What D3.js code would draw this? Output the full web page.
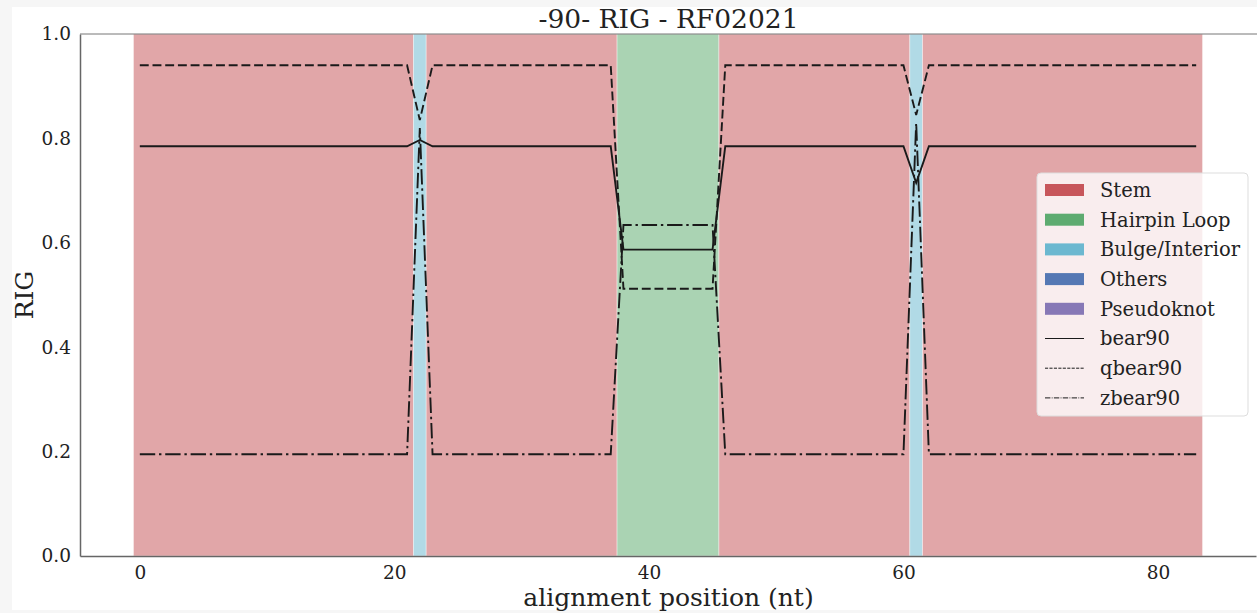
<!DOCTYPE html>
<html>
<head>
<meta charset="utf-8">
<script src="https://cdn.jsdelivr.net/npm/d3@7"></script>
<style>
  body { margin: 0; background: #f6f6f6; }
  svg { display: block; font-family: "DejaVu Serif", serif; }
</style>
</head>
<body>
<div id="chart"></div>
<script>
// RIG per alignment position (0..83)
const bear90 = [
  0.785,0.785,0.785,0.785,0.785,0.785,0.785,0.785,0.785,0.785,0.785,0.785,0.785,0.785,0.785,0.785,0.785,0.785,0.785,0.785,0.785,0.785,
  0.797,
  0.785,0.785,0.785,0.785,0.785,0.785,0.785,0.785,0.785,0.785,0.785,0.785,0.785,0.785,0.785,
  0.587,0.587,0.587,0.587,0.587,0.587,0.587,0.587,
  0.785,0.785,0.785,0.785,0.785,0.785,0.785,0.785,0.785,0.785,0.785,0.785,0.785,0.785,0.785,
  0.715,
  0.785,0.785,0.785,0.785,0.785,0.785,0.785,0.785,0.785,0.785,0.785,0.785,0.785,0.785,0.785,0.785,0.785,0.785,0.785,0.785,0.785,0.785
]
const qbear90 = [
  0.94,0.94,0.94,0.94,0.94,0.94,0.94,0.94,0.94,0.94,0.94,0.94,0.94,0.94,0.94,0.94,0.94,0.94,0.94,0.94,0.94,0.94,
  0.835,
  0.94,0.94,0.94,0.94,0.94,0.94,0.94,0.94,0.94,0.94,0.94,0.94,0.94,0.94,0.94,
  0.512,0.512,0.512,0.512,0.512,0.512,0.512,0.512,
  0.94,0.94,0.94,0.94,0.94,0.94,0.94,0.94,0.94,0.94,0.94,0.94,0.94,0.94,0.94,
  0.845,
  0.94,0.94,0.94,0.94,0.94,0.94,0.94,0.94,0.94,0.94,0.94,0.94,0.94,0.94,0.94,0.94,0.94,0.94,0.94,0.94,0.94,0.94
]
const zbear90 = [
  0.195,0.195,0.195,0.195,0.195,0.195,0.195,0.195,0.195,0.195,0.195,0.195,0.195,0.195,0.195,0.195,0.195,0.195,0.195,0.195,0.195,0.195,
  0.82,
  0.195,0.195,0.195,0.195,0.195,0.195,0.195,0.195,0.195,0.195,0.195,0.195,0.195,0.195,0.195,
  0.634,0.634,0.634,0.634,0.634,0.634,0.634,0.634,
  0.195,0.195,0.195,0.195,0.195,0.195,0.195,0.195,0.195,0.195,0.195,0.195,0.195,0.195,0.195,
  0.83,
  0.195,0.195,0.195,0.195,0.195,0.195,0.195,0.195,0.195,0.195,0.195,0.195,0.195,0.195,0.195,0.195,0.195,0.195,0.195,0.195,0.195,0.195
]

// secondary structure segments (first, last position)
const segments = [
  { type: "Stem", from: 0, to: 21 },
  { type: "Bulge/Interior", from: 22, to: 22 },
  { type: "Stem", from: 23, to: 37 },
  { type: "Hairpin Loop", from: 38, to: 45 },
  { type: "Stem", from: 46, to: 60 },
  { type: "Bulge/Interior", from: 61, to: 61 },
  { type: "Stem", from: 62, to: 83 }
]

const structureTypes = ["Stem", "Hairpin Loop", "Bulge/Interior", "Others", "Pseudoknot"]
const structureColors = ["#C44E52", "#55A868", "#64B5CD", "#4C72B0", "#8172B2"]
const xTicks = [0, 20, 40, 60, 80]
const yTicks = [0, 0.2, 0.4, 0.6, 0.8, 1.0]

const seriesList = [
  { name: "bear90", values: bear90, dash: null },
  { name: "qbear90", values: qbear90, dash: "8.9,3.8" },
  { name: "zbear90", values: zbear90, dash: "15.4,3.8,2.4,3.8" }
]

const width = 1257, height = 613
const margin = { top: 34, right: 1, left: 80, bottom: 57 }

const svg = d3.select("#chart").append("svg")
    .attr("width", width)
    .attr("height", height)

// figure background
svg.append("rect")
    .attr("x", 12).attr("y", 7)
    .attr("width", width - 12).attr("height", 603)
    .attr("fill", "#fff")

const x = d3.scaleLinear()
    .domain([-4.7, 87.7])
    .range([margin.left, width - margin.right])
const y = d3.scaleLinear()
    .domain([0, 1])
    .range([height - margin.bottom, margin.top])

const color = d3.scaleOrdinal().domain(structureTypes).range(structureColors)

// structure spans
svg.append("g").selectAll("rect")
    .data(segments)
    .join("rect")
    .attr("x", d => x(d.from - 0.5))
    .attr("width", d => x(d.to + 0.5) - x(d.from - 0.5))
    .attr("y", y(1))
    .attr("height", y(0) - y(1))
    .attr("fill", d => color(d.type))
    .attr("fill-opacity", 0.5)
    .attr("stroke", "#fff")
    .attr("stroke-opacity", 0.5)
    .attr("stroke-width", 0.8)

// lines
const line = d3.line()
    .x((d, i) => x(i))
    .y(d => y(d))

svg.append("g").selectAll("path")
    .data(seriesList)
    .join("path")
    .attr("d", d => line(d.values))
    .attr("fill", "none")
    .attr("stroke", "#1a1a1a")
    .attr("stroke-width", 1.9)
    .attr("stroke-dasharray", d => d.dash)

// axes
const xAxis = svg.append("g")
    .attr("transform", `translate(0,${y(0)})`)
    .call(d3.axisBottom(x).tickValues(xTicks).tickSize(0).tickPadding(10))
const yAxis = svg.append("g")
    .attr("transform", `translate(${margin.left},0)`)
    .call(d3.axisLeft(y).tickValues(yTicks).tickFormat(d3.format(".1f")).tickSize(0).tickPadding(9))

xAxis.select(".domain").attr("stroke", "#666").attr("stroke-width", 1.5)
yAxis.select(".domain").attr("stroke", "#666").attr("stroke-width", 1.5)
svg.selectAll(".tick text")
    .attr("font-family", "DejaVu Serif")
    .attr("font-size", 18.5)
    .attr("fill", "#222")

// top spine
svg.append("line")
    .attr("x1", margin.left).attr("x2", width)
    .attr("y1", y(1)).attr("y2", y(1))
    .attr("stroke", "#777").attr("stroke-width", 1)

// titles
svg.append("text")
    .attr("x", (margin.left + width) / 2)
    .attr("y", 28)
    .attr("text-anchor", "middle")
    .attr("font-size", 26.5)
    .attr("fill", "#222")
    .text("-90- RIG - RF02021")

svg.append("text")
    .attr("x", (margin.left + width) / 2)
    .attr("y", 606)
    .attr("text-anchor", "middle")
    .attr("font-size", 25)
    .attr("fill", "#222")
    .text("alignment position (nt)")

svg.append("text")
    .attr("transform", `translate(33,${(y(0) + y(1)) / 2}) rotate(-90)`)
    .attr("text-anchor", "middle")
    .attr("font-size", 25)
    .attr("fill", "#222")
    .text("RIG")

// legend
const legend = svg.append("g").attr("transform", "translate(1037,173)")
legend.append("rect")
    .attr("width", 211).attr("height", 243)
    .attr("rx", 4)
    .attr("fill", "#fff").attr("fill-opacity", 0.8)
    .attr("stroke", "#ddd")

const legendItems = structureTypes.map(t => ({ name: t, kind: "patch" }))
    .concat(seriesList.map(s => ({ name: s.name, kind: "line", dash: s.dash })))

const item = legend.selectAll("g.item")
    .data(legendItems)
    .join("g")
    .attr("class", "item")
    .attr("transform", (d, i) => `translate(0,${17 + i * 29.7})`)

item.filter(d => d.kind === "patch").append("rect")
    .attr("x", 8).attr("y", -6)
    .attr("width", 39).attr("height", 12)
    .attr("fill", d => color(d.name))
    .attr("fill-opacity", 0.95)

item.filter(d => d.kind === "line").append("line")
    .attr("x1", 8).attr("x2", 47)
    .attr("stroke", "#1a1a1a")
    .attr("stroke-width", 1)
    .attr("stroke-dasharray", d => d.dash ? d.dash.split(",").map(v => v * 0.35).join(",") : null)

item.append("text")
    .attr("x", 63)
    .attr("dy", "0.35em")
    .attr("font-size", 19.5)
    .attr("fill", "#222")
    .text(d => d.name)
</script>
</body>
</html>
